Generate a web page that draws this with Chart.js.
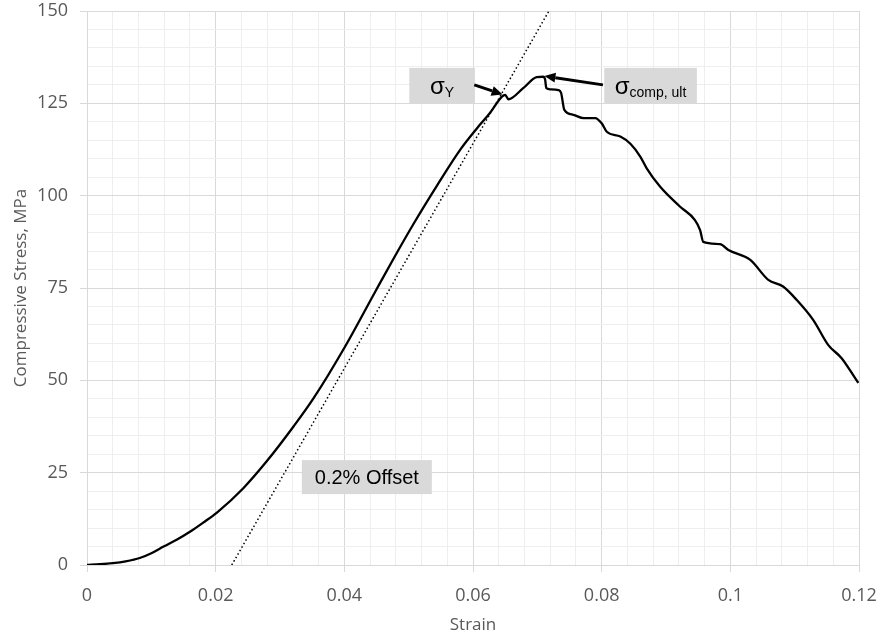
<!DOCTYPE html>
<html>
<head>
<meta charset="utf-8">
<script src="https://cdn.jsdelivr.net/npm/chart.js@4"></script>
<style>
  html, body { margin: 0; padding: 0; background: #fff; }
  #wrap { width: 885px; height: 635px; }
</style>
</head>
<body>
<div id="wrap"><canvas id="stressChart"></canvas></div>
<script>
// Đường cong ứng suất - biến dạng nén
const strain = [0, 0.002, 0.004, 0.006, 0.0082, 0.010, 0.0119, 0.014, 0.016, 0.018,
  0.0202, 0.0243, 0.0279, 0.0321, 0.0352, 0.0401, 0.0448, 0.0476, 0.0507, 0.0545,
  0.0580, 0.0606, 0.0626, 0.0645, 0.0650, 0.0655, 0.0678, 0.0699, 0.0709, 0.0712,
  0.0714, 0.0720, 0.0733, 0.0737, 0.0742, 0.0756, 0.0772, 0.0790, 0.0800, 0.0808,
  0.0829, 0.0845, 0.0860, 0.0870, 0.0891, 0.0922, 0.0945, 0.0953, 0.0958, 0.0984,
  0.0997, 0.1031, 0.1059, 0.1082, 0.1103, 0.1129, 0.1152, 0.1173, 0.1194, 0.1199];
const stress = [0, 0.2, 0.5, 1.0, 1.9, 3.2, 5.0, 6.9, 9.0, 11.4,
  14.2, 20.8, 28.0, 37.5, 45.1, 59.1, 74.0, 82.8, 92.2, 103.0,
  112.4, 118.2, 122.3, 126.8, 127.3, 126.1, 129.1, 132.1, 132.2, 131.5,
  129.1, 128.8, 128.6, 127.8, 123.2, 121.9, 121.0, 121.0, 119.6, 117.3,
  116.0, 114.0, 110.6, 107.4, 102.4, 97.0, 93.4, 90.7, 87.5, 86.9,
  85.3, 82.6, 77.2, 75.4, 71.8, 66.3, 59.6, 56.0, 50.6, 49.3];

// Đường offset 0.2%
const offsetStrain = [0.0225, 0.0718];
const offsetStress = [0, 150];

// Nhãn trục
const xTicks = [0, 0.02, 0.04, 0.06, 0.08, 0.1, 0.12];
const yTicks = [0, 25, 50, 75, 100, 125, 150];

const isMajor = (v, step) => Math.abs(v / step - Math.round(v / step)) < 1e-6;

// bỏ phần đệm tự động của trục để vùng vẽ khớp với hình gốc
function noPad(s) {
  s.paddingLeft = 0;
  s.paddingRight = 0;
  s.paddingTop = 0;
  s.paddingBottom = 0;
}

// Plugin vẽ chú thích (hộp xám + mũi tên)
const notesPlugin = {
  id: 'notes',
  afterDatasetsDraw(chart) {
    const ctx = chart.ctx;
    const xs = chart.scales.x, ys = chart.scales.y;
    const px = v => xs.getPixelForValue(v);
    const py = v => ys.getPixelForValue(v);

    function box(x0, x1, y0, y1) {
      ctx.fillStyle = '#d9d9d9';
      ctx.fillRect(px(x0), py(y0), px(x1) - px(x0), py(y1) - py(y0));
    }
    function sigma(x0, x1, baseY, sub) {
      ctx.fillStyle = '#000';
      ctx.textBaseline = 'alphabetic';
      ctx.textAlign = 'left';
      ctx.font = '24px "Liberation Sans", Arial';
      const w1 = ctx.measureText('σ').width;
      ctx.font = '14px "Liberation Sans", Arial';
      const w2 = ctx.measureText(sub).width;
      const left = (px(x0) + px(x1)) / 2 - (w1 + w2) / 2;
      ctx.font = '24px "Liberation Sans", Arial';
      ctx.fillText('σ', left, baseY);
      ctx.font = '14px "Liberation Sans", Arial';
      ctx.fillText(sub, left + w1, baseY + 3);
    }
    function arrow(x0, y0, x1, y1) {
      const ax = px(x0), ay = py(y0), bx = px(x1), by = py(y1);
      const ang = Math.atan2(by - ay, bx - ax);
      const hl = 11, hw = 5;
      const sx = bx - hl * Math.cos(ang), sy = by - hl * Math.sin(ang);
      ctx.strokeStyle = '#000';
      ctx.lineWidth = 3;
      ctx.beginPath();
      ctx.moveTo(ax, ay);
      ctx.lineTo(sx, sy);
      ctx.stroke();
      ctx.fillStyle = '#000';
      ctx.beginPath();
      ctx.moveTo(bx, by);
      ctx.lineTo(sx + hw * Math.sin(ang), sy - hw * Math.cos(ang));
      ctx.lineTo(sx - hw * Math.sin(ang), sy + hw * Math.cos(ang));
      ctx.closePath();
      ctx.fill();
    }

    ctx.save();
    // σY
    box(0.0501, 0.0603, 134.6, 125.1);
    sigma(0.0501, 0.0603, py(127.6), 'Y');
    arrow(0.0602, 130.0, 0.0646, 127.4);
    // σcomp, ult
    box(0.0804, 0.0948, 134.6, 125.1);
    sigma(0.0804, 0.0948, py(127.6), 'comp, ult');
    arrow(0.0802, 130.0, 0.0711, 132.4);
    // 0.2% Offset
    box(0.0334, 0.0536, 28.4, 19.2);
    ctx.fillStyle = '#000';
    ctx.font = '20px "Liberation Sans", Arial';
    ctx.textAlign = 'center';
    ctx.textBaseline = 'middle';
    ctx.fillText('0.2% Offset', (px(0.0334) + px(0.0536)) / 2, (py(28.4) + py(19.2)) / 2 + 1);
    ctx.restore();
  }
};

document.addEventListener('DOMContentLoaded', function() {
  const mainData = strain.map((x, i) => ({ x: x, y: stress[i] }));
  const offsetData = offsetStrain.map((x, i) => ({ x: x, y: offsetStress[i] }));

  const config = {
    type: 'scatter',
    data: {
      datasets: [{
        label: 'Stress',
        data: mainData,
        showLine: true,
        borderColor: '#000',
        borderWidth: 2.3,
        pointRadius: 0,
        cubicInterpolationMode: 'monotone',
        order: 1
      }, {
        label: 'Offset',
        data: offsetData,
        showLine: true,
        borderColor: '#000',
        borderWidth: 1.5,
        borderDash: [1.5, 2.5],
        pointRadius: 0,
        order: 2
      }]
    },
    options: {
      responsive: true,
      maintainAspectRatio: false,
      animation: false,
      layout: { padding: { top: 11, right: 26, left: 0, bottom: 0 } },
      plugins: {
        legend: { display: false },
        tooltip: { enabled: false }
      },
      scales: {
        x: {
          type: 'linear',
          min: 0,
          max: 0.12,
          afterFit: s => { s.height = 70; noPad(s); },
          afterBuildTicks: s => {
            const t = [];
            for (let i = 0; i <= 30; i++) t.push({ value: +(i * 0.004).toFixed(4) });
            s.ticks = t;
          },
          border: { color: '#d9d9d9', width: 1 },
          grid: {
            color: c => isMajor(c.tick.value, 0.02) ? '#d9d9d9' : '#eeeeee',
            tickColor: c => isMajor(c.tick.value, 0.02) ? '#d9d9d9' : 'rgba(0,0,0,0)',
            tickLength: 7,
            lineWidth: 1
          },
          ticks: {
            autoSkip: false,
            maxRotation: 0,
            padding: 13,
            color: '#595959',
            font: { family: '"Open Sans"', size: 18 },
            callback: v => xTicks.some(t => Math.abs(t - v) < 1e-6) ? String(+v.toFixed(4)) : ''
          },
          title: {
            display: true,
            text: 'Strain',
            color: '#595959',
            font: { family: '"Open Sans"', size: 17 },
            padding: { top: 0, bottom: 0 }
          }
        },
        y: {
          min: 0,
          max: 150,
          afterFit: s => { s.width = 87; noPad(s); },
          afterBuildTicks: s => {
            const t = [];
            for (let i = 0; i <= 30; i++) t.push({ value: i * 5 });
            s.ticks = t;
          },
          border: { color: '#d9d9d9', width: 1 },
          grid: {
            color: c => isMajor(c.tick.value, 25) ? '#d9d9d9' : '#eeeeee',
            tickColor: c => isMajor(c.tick.value, 25) ? '#d9d9d9' : 'rgba(0,0,0,0)',
            tickLength: 7,
            lineWidth: 1
          },
          ticks: {
            autoSkip: false,
            padding: 12,
            color: '#595959',
            font: { family: '"Open Sans"', size: 18 },
            callback: v => yTicks.includes(v) ? String(v) : ''
          },
          title: {
            display: true,
            text: 'Compressive Stress, MPa',
            color: '#595959',
            font: { family: '"Open Sans"', size: 17 },
            padding: { top: 11, bottom: 0 }
          }
        }
      }
    },
    plugins: [notesPlugin]
  };

  const el = document.getElementById('stressChart');
  if (el) {
    new Chart(el, config);
  }
});
</script>
</body>
</html>
